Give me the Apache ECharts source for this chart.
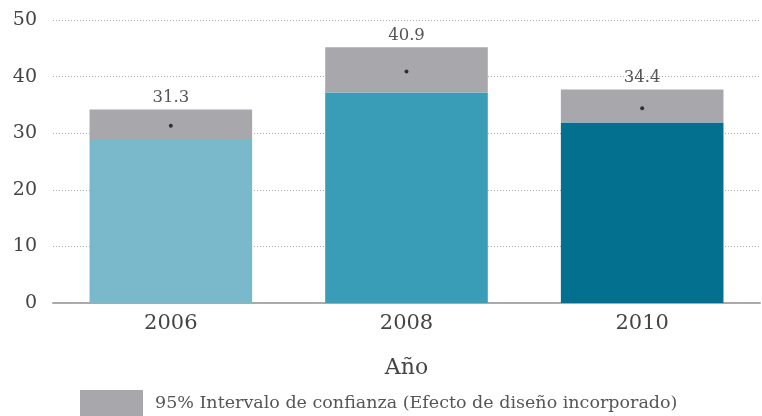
<!DOCTYPE html>
<html><head><meta charset="utf-8">
<script src="https://cdn.jsdelivr.net/npm/echarts@6/dist/echarts.min.js"></script>
<style>html,body{margin:0;padding:0;background:#fff}#c{width:762px;height:416px}</style>
</head><body><div id="c"></div>
<script>
const years = ['2006', '2008', '2010'];
const estimates = [31.3, 40.9, 34.4];
const lowerBounds = [28.8, 37.2, 31.9];
const upperBounds = [34.2, 45.2, 37.7];
const barColors = ['#7AB8CC', '#3A9DB8', '#037090'];
const yTicks = [0, 10, 20, 30, 40, 50];
const legendLabel = '95% Intervalo de confianza (Efecto de diseño incorporado)';
const xName = 'Año';

const FONT = '"DejaVu Serif", "Liberation Serif", serif';
const chart = echarts.init(document.getElementById('c'), null, {renderer: 'canvas'});
chart.setOption({
  animation: false,
  textStyle: {fontFamily: FONT},
  grid: {left: 53, right: 2, top: 20, bottom: 113},
  legend: {
    data: [legendLabel],
    left: 80, top: 390, padding: 0,
    itemWidth: 63, itemHeight: 26, itemGap: 10,
    icon: 'rect',
    textStyle: {fontFamily: FONT, fontSize: 17.5, color: '#555', padding: [0, 0, 0, 7]}
  },
  xAxis: {
    type: 'category', data: years,
    name: xName, nameLocation: 'middle', nameGap: 54,
    nameTextStyle: {fontFamily: FONT, fontSize: 22, color: '#444'},
    axisLine: {lineStyle: {color: '#aaa', width: 2}},
    axisTick: {alignWithLabel: true, length: 6, lineStyle: {color: '#aaa'}},
    axisLabel: {fontFamily: FONT, fontSize: 21, color: '#444', margin: 10}
  },
  yAxis: {
    type: 'value', min: 0, max: 50, interval: 10,
    axisLine: {show: false}, axisTick: {show: false},
    axisLabel: {fontFamily: FONT, fontSize: 19, color: '#444', margin: 16,
      formatter: v => yTicks.includes(v) ? String(v) : ''},
    splitLine: {lineStyle: {color: '#aaa', type: [1, 2], width: 1}}
  },
  series: [
    {
      type: 'bar', stack: 'ci', barWidth: '69%', silent: true,
      data: lowerBounds.map((v, i) => ({value: v, itemStyle: {color: barColors[i]}}))
    },
    {
      name: legendLabel, type: 'bar', stack: 'ci', barWidth: '69%',
      itemStyle: {color: '#A8A8AC'},
      data: upperBounds.map((v, i) => +(v - lowerBounds[i]).toFixed(2)),
      label: {show: true, position: 'top', distance: 3,
        fontFamily: FONT, fontSize: 16.5, color: '#555',
        formatter: p => estimates[p.dataIndex].toFixed(1)}
    },
    {
      type: 'scatter', data: estimates, symbol: 'circle', symbolSize: 4,
      itemStyle: {color: '#111'}, z: 5, silent: true
    }
  ]
});
</script></body></html>
